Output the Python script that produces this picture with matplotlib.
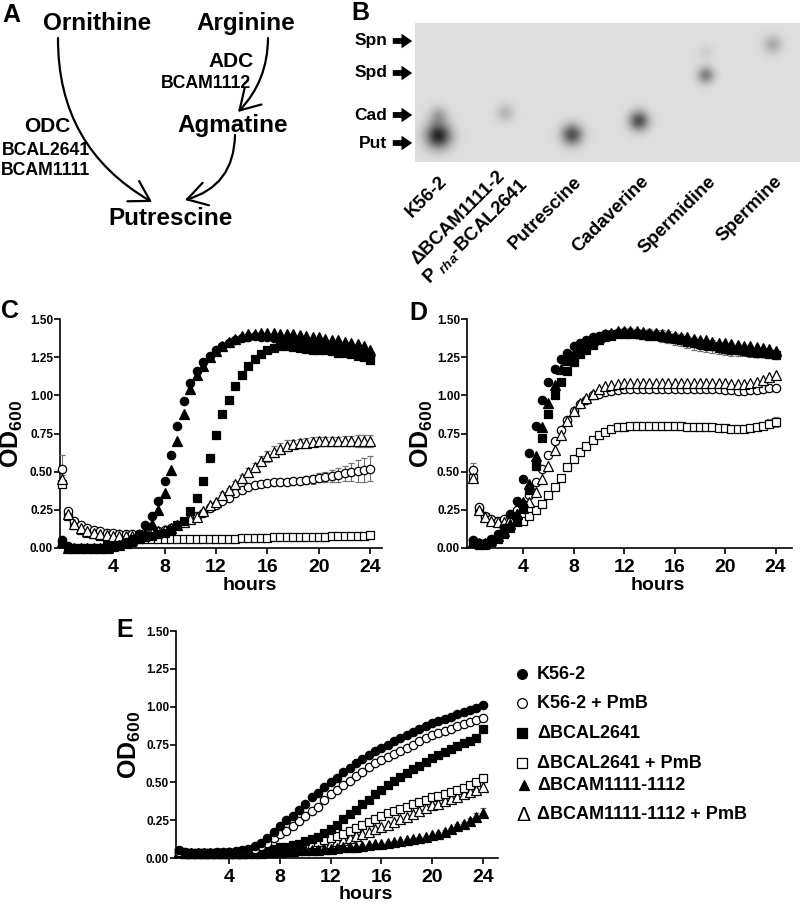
import numpy as np
import matplotlib
matplotlib.use('Agg')
import matplotlib.pyplot as plt
from matplotlib.patches import FancyArrowPatch

plt.rcParams['font.family'] = ['Liberation Sans', 'DejaVu Sans']
plt.rcParams['font.weight'] = 'bold'
plt.rcParams['mathtext.fontset'] = 'custom'
plt.rcParams['mathtext.rm'] = 'Liberation Sans:bold'
plt.rcParams['mathtext.it'] = 'Liberation Sans:italic:bold'
plt.rcParams['mathtext.bf'] = 'Liberation Sans:bold'

# ---------------- data ----------------
hours = np.arange(0, 24.5, 0.5)

# Panel C
C_fc = [0.05, 0.01, 0.00, 0.00, 0.00, 0.00, 0.00, 0.00, 0.01, 0.02,
        0.04, 0.06, 0.09, 0.15, 0.21, 0.31, 0.44, 0.61, 0.80, 0.96,
        1.08, 1.16, 1.22, 1.26, 1.30, 1.32, 1.34, 1.36, 1.375, 1.385,
        1.39, 1.385, 1.38, 1.375, 1.37, 1.36, 1.355, 1.35, 1.34, 1.335,
        1.33, 1.32, 1.31, 1.305, 1.30, 1.29, 1.285, 1.275, 1.26]
C_ft = [0.04, 0.00, 0.00, 0.00, 0.00, 0.00, 0.00, 0.00, 0.01, 0.02,
        0.03, 0.05, 0.07, 0.10, 0.16, 0.25, 0.36, 0.51, 0.70, 0.88,
        1.04, 1.13, 1.19, 1.25, 1.29, 1.32, 1.35, 1.37, 1.39, 1.40,
        1.405, 1.41, 1.41, 1.41, 1.405, 1.40, 1.40, 1.395, 1.39, 1.385,
        1.38, 1.37, 1.365, 1.36, 1.35, 1.345, 1.335, 1.325, 1.30]
C_fs = [0.03, 0.00, 0.00, 0.00, 0.00, 0.00, 0.00, 0.01, 0.01, 0.02,
        0.03, 0.04, 0.06, 0.07, 0.08, 0.09, 0.10, 0.12, 0.15, 0.18,
        0.24, 0.33, 0.44, 0.59, 0.74, 0.88, 0.97, 1.06, 1.13, 1.19,
        1.24, 1.27, 1.30, 1.31, 1.32, 1.32, 1.315, 1.31, 1.305, 1.30,
        1.30, 1.295, 1.29, 1.28, 1.275, 1.27, 1.26, 1.25, 1.23]
C_oc = [0.52, 0.24, 0.18, 0.15, 0.13, 0.12, 0.11, 0.10, 0.095, 0.09,
        0.09, 0.09, 0.09, 0.095, 0.10, 0.11, 0.12, 0.13, 0.15, 0.17,
        0.19, 0.21, 0.23, 0.26, 0.28, 0.31, 0.33, 0.36, 0.38, 0.40,
        0.41, 0.42, 0.425, 0.43, 0.43, 0.435, 0.44, 0.44, 0.445, 0.45,
        0.46, 0.465, 0.47, 0.48, 0.49, 0.50, 0.505, 0.51, 0.52]
C_oc_sd = [0.09, 0.01, 0.01, 0.01, 0.01, 0.01, 0.01, 0.01, 0.01, 0.01,
           0.01, 0.01, 0.01, 0.01, 0.01, 0.01, 0.01, 0.01, 0.01, 0.01,
           0.01, 0.01, 0.01, 0.01, 0.01, 0.01, 0.01, 0.01, 0.01, 0.01,
           0.01, 0.01, 0.01, 0.01, 0.015, 0.015, 0.02, 0.02, 0.025, 0.03,
           0.03, 0.035, 0.04, 0.045, 0.05, 0.06, 0.07, 0.08, 0.08]
C_ot = [0.45, 0.22, 0.16, 0.13, 0.11, 0.10, 0.09, 0.085, 0.08, 0.08,
        0.08, 0.08, 0.085, 0.09, 0.10, 0.11, 0.12, 0.13, 0.15, 0.17,
        0.19, 0.20, 0.24, 0.28, 0.30, 0.35, 0.38, 0.42, 0.46, 0.50,
        0.53, 0.57, 0.60, 0.63, 0.65, 0.67, 0.68, 0.685, 0.69, 0.695,
        0.70, 0.70, 0.70, 0.70, 0.70, 0.70, 0.70, 0.70, 0.70]
C_ot_sd = [0.03, 0.01, 0.01, 0.01, 0.01, 0.01, 0.01, 0.01, 0.01, 0.01,
           0.01, 0.01, 0.01, 0.01, 0.01, 0.01, 0.01, 0.01, 0.01, 0.01,
           0.01, 0.01, 0.01, 0.01, 0.01, 0.015, 0.015, 0.02, 0.02, 0.025,
           0.03, 0.03, 0.035, 0.035, 0.035, 0.035, 0.03, 0.03, 0.03, 0.03,
           0.03, 0.03, 0.03, 0.03, 0.035, 0.035, 0.04, 0.04, 0.04]
C_os = [0.42, 0.21, 0.15, 0.12, 0.10, 0.09, 0.08, 0.075, 0.07, 0.07,
        0.065, 0.065, 0.06, 0.06, 0.06, 0.06, 0.06, 0.06, 0.06, 0.06,
        0.06, 0.06, 0.06, 0.06, 0.06, 0.06, 0.06, 0.06, 0.065, 0.065,
        0.065, 0.065, 0.065, 0.07, 0.07, 0.07, 0.07, 0.07, 0.075, 0.075,
        0.075, 0.075, 0.08, 0.08, 0.08, 0.08, 0.08, 0.08, 0.085]

# Panel D
D_fc = [0.05, 0.03, 0.03, 0.06, 0.09, 0.13, 0.22, 0.31, 0.45, 0.62,
        0.80, 0.97, 1.09, 1.17, 1.24, 1.28, 1.32, 1.34, 1.36, 1.38,
        1.39, 1.40, 1.405, 1.41, 1.41, 1.41, 1.405, 1.40, 1.40, 1.395,
        1.39, 1.38, 1.37, 1.36, 1.35, 1.34, 1.33, 1.325, 1.32, 1.31,
        1.305, 1.30, 1.295, 1.29, 1.285, 1.28, 1.28, 1.275, 1.27]
D_fc_sd = [0.01, 0.01, 0.01, 0.01, 0.01, 0.01, 0.01, 0.01, 0.01, 0.01,
           0.01, 0.01, 0.01, 0.01, 0.01, 0.01, 0.01, 0.01, 0.01, 0.01,
           0.015, 0.02, 0.02, 0.025, 0.03, 0.03, 0.03, 0.03, 0.035, 0.035,
           0.04, 0.04, 0.04, 0.04, 0.04, 0.04, 0.04, 0.04, 0.04, 0.04,
           0.04, 0.04, 0.04, 0.035, 0.035, 0.03, 0.03, 0.03, 0.03]
D_ft = [0.04, 0.03, 0.03, 0.05, 0.08, 0.11, 0.16, 0.22, 0.30, 0.42,
        0.60, 0.79, 0.95, 1.07, 1.17, 1.23, 1.28, 1.31, 1.34, 1.36,
        1.38, 1.40, 1.41, 1.42, 1.42, 1.42, 1.42, 1.415, 1.41, 1.41,
        1.405, 1.40, 1.39, 1.385, 1.38, 1.37, 1.365, 1.36, 1.35, 1.345,
        1.34, 1.335, 1.33, 1.325, 1.32, 1.315, 1.31, 1.305, 1.29]
D_fs = [0.04, 0.02, 0.02, 0.04, 0.06, 0.09, 0.13, 0.18, 0.26, 0.38,
        0.54, 0.72, 0.88, 1.00, 1.09, 1.16, 1.22, 1.27, 1.30, 1.33,
        1.36, 1.38, 1.39, 1.40, 1.40, 1.40, 1.40, 1.395, 1.39, 1.39,
        1.38, 1.375, 1.37, 1.36, 1.35, 1.34, 1.335, 1.33, 1.32, 1.31,
        1.305, 1.30, 1.295, 1.29, 1.285, 1.28, 1.275, 1.27, 1.265]
D_oc = [0.51, 0.27, 0.21, 0.19, 0.18, 0.19, 0.21, 0.25, 0.29, 0.35,
        0.43, 0.52, 0.61, 0.70, 0.77, 0.84, 0.90, 0.94, 0.97, 1.00,
        1.01, 1.02, 1.03, 1.035, 1.04, 1.04, 1.04, 1.04, 1.04, 1.04,
        1.04, 1.04, 1.04, 1.04, 1.04, 1.04, 1.04, 1.04, 1.04, 1.04,
        1.035, 1.035, 1.03, 1.03, 1.035, 1.035, 1.04, 1.045, 1.05]
D_oc_sd = [0.05, 0.01, 0.01, 0.01, 0.01, 0.01, 0.01, 0.01, 0.01, 0.01,
           0.01, 0.01, 0.01, 0.01, 0.01, 0.01, 0.01, 0.01, 0.01, 0.01,
           0.01, 0.01, 0.01, 0.01, 0.01, 0.01, 0.01, 0.01, 0.01, 0.01,
           0.01, 0.01, 0.01, 0.01, 0.01, 0.01, 0.01, 0.01, 0.01, 0.01,
           0.01, 0.01, 0.01, 0.01, 0.01, 0.01, 0.01, 0.015, 0.015]
D_ot = [0.46, 0.25, 0.20, 0.18, 0.17, 0.17, 0.19, 0.22, 0.26, 0.30,
        0.37, 0.45, 0.54, 0.64, 0.74, 0.83, 0.90, 0.95, 0.98, 1.01,
        1.04, 1.06, 1.07, 1.075, 1.08, 1.08, 1.08, 1.08, 1.08, 1.08,
        1.08, 1.08, 1.08, 1.08, 1.08, 1.08, 1.08, 1.08, 1.08, 1.08,
        1.08, 1.075, 1.075, 1.075, 1.08, 1.09, 1.10, 1.12, 1.13]
D_os = [0.46, 0.25, 0.20, 0.18, 0.17, 0.16, 0.15, 0.17, 0.18, 0.21,
        0.25, 0.29, 0.35, 0.40, 0.46, 0.53, 0.58, 0.63, 0.67, 0.71,
        0.74, 0.76, 0.78, 0.79, 0.795, 0.80, 0.80, 0.80, 0.80, 0.80,
        0.80, 0.80, 0.80, 0.80, 0.795, 0.795, 0.79, 0.79, 0.79, 0.785,
        0.785, 0.78, 0.78, 0.78, 0.785, 0.79, 0.80, 0.815, 0.825]
D_os_sd = [0.02, 0.01, 0.01, 0.01, 0.01, 0.01, 0.01, 0.01, 0.01, 0.01,
           0.01, 0.01, 0.01, 0.01, 0.01, 0.01, 0.01, 0.01, 0.01, 0.01,
           0.01, 0.01, 0.01, 0.01, 0.01, 0.01, 0.01, 0.01, 0.01, 0.01,
           0.01, 0.01, 0.01, 0.01, 0.01, 0.01, 0.01, 0.01, 0.01, 0.01,
           0.01, 0.01, 0.01, 0.01, 0.01, 0.015, 0.02, 0.03, 0.03]

# Panel E
E_fc = [0.05, 0.04, 0.035, 0.035, 0.035, 0.035, 0.04, 0.04, 0.04, 0.045,
        0.05, 0.06, 0.08, 0.10, 0.13, 0.17, 0.21, 0.25, 0.28, 0.32,
        0.36, 0.40, 0.43, 0.47, 0.50, 0.53, 0.565, 0.595, 0.625, 0.655,
        0.68, 0.705, 0.73, 0.75, 0.77, 0.79, 0.81, 0.83, 0.85, 0.87,
        0.89, 0.905, 0.92, 0.935, 0.95, 0.965, 0.98, 0.99, 1.01]
E_oc = [0.04, 0.035, 0.03, 0.03, 0.03, 0.03, 0.035, 0.035, 0.04, 0.04,
        0.045, 0.05, 0.06, 0.08, 0.10, 0.13, 0.16, 0.18, 0.21, 0.245,
        0.28, 0.31, 0.34, 0.38, 0.42, 0.45, 0.48, 0.51, 0.54, 0.57,
        0.60, 0.625, 0.65, 0.67, 0.69, 0.71, 0.73, 0.75, 0.77, 0.79,
        0.81, 0.825, 0.84, 0.855, 0.87, 0.885, 0.90, 0.91, 0.925]
E_fs = [0.04, 0.035, 0.03, 0.03, 0.03, 0.03, 0.03, 0.03, 0.035, 0.035,
        0.04, 0.04, 0.045, 0.05, 0.055, 0.06, 0.07, 0.075, 0.085, 0.095,
        0.11, 0.125, 0.14, 0.165, 0.19, 0.22, 0.255, 0.29, 0.32, 0.355,
        0.385, 0.42, 0.45, 0.48, 0.51, 0.535, 0.56, 0.585, 0.61, 0.635,
        0.66, 0.68, 0.70, 0.72, 0.74, 0.76, 0.775, 0.79, 0.85]
E_os = [0.04, 0.035, 0.03, 0.03, 0.03, 0.03, 0.03, 0.03, 0.035, 0.035,
        0.035, 0.04, 0.04, 0.045, 0.05, 0.055, 0.06, 0.065, 0.07, 0.075,
        0.085, 0.095, 0.105, 0.12, 0.13, 0.145, 0.16, 0.18, 0.20, 0.22,
        0.24, 0.26, 0.28, 0.295, 0.31, 0.325, 0.34, 0.355, 0.37, 0.385,
        0.40, 0.41, 0.425, 0.435, 0.45, 0.465, 0.48, 0.50, 0.53]
E_ot = [0.04, 0.035, 0.03, 0.03, 0.03, 0.03, 0.03, 0.03, 0.035, 0.035,
        0.035, 0.04, 0.04, 0.045, 0.05, 0.05, 0.055, 0.06, 0.065, 0.07,
        0.075, 0.08, 0.09, 0.095, 0.10, 0.11, 0.12, 0.13, 0.145, 0.16,
        0.175, 0.19, 0.205, 0.22, 0.24, 0.255, 0.27, 0.29, 0.31, 0.33,
        0.35, 0.36, 0.375, 0.39, 0.405, 0.42, 0.435, 0.45, 0.47]
E_ft = [0.04, 0.035, 0.03, 0.03, 0.03, 0.03, 0.03, 0.03, 0.03, 0.03,
        0.03, 0.035, 0.035, 0.035, 0.04, 0.04, 0.04, 0.045, 0.045, 0.05,
        0.05, 0.055, 0.055, 0.06, 0.06, 0.065, 0.07, 0.07, 0.075, 0.08,
        0.085, 0.09, 0.095, 0.10, 0.105, 0.11, 0.12, 0.125, 0.135, 0.14,
        0.15, 0.16, 0.175, 0.19, 0.21, 0.225, 0.245, 0.27, 0.30]
E_ft_sd = [0.005, 0.005, 0.005, 0.005, 0.005, 0.005, 0.005, 0.005, 0.005, 0.005,
           0.005, 0.005, 0.005, 0.005, 0.005, 0.005, 0.005, 0.005, 0.005, 0.005,
           0.005, 0.005, 0.005, 0.005, 0.005, 0.005, 0.005, 0.005, 0.005, 0.005,
           0.005, 0.005, 0.005, 0.005, 0.005, 0.005, 0.005, 0.005, 0.005, 0.005,
           0.005, 0.01, 0.01, 0.01, 0.015, 0.015, 0.02, 0.025, 0.03]

legend_labels = ['K56-2', 'K56-2 + PmB', '\u0394BCAL2641', '\u0394BCAL2641 + PmB',
                 '\u0394BCAM1111-1112', '\u0394BCAM1111-1112 + PmB']
y_ticks = [0.00, 0.25, 0.50, 0.75, 1.00, 1.25, 1.50]
x_ticks = [4, 8, 12, 16, 20, 24]

# Panel B (TLC)
gel_lanes = ['K56-2', '\u0394BCAM1111-2', 'Putrescine', 'Cadaverine', 'Spermidine', 'Spermine']
gel_lane2_line2 = r'P ${}_{\mathit{rha}}$-BCAL2641'
spot_lane = [0, 0, 1, 2, 3, 4, 4, 5]
spot_pos = [26, 46, 49, 27, 41, 87, 110, 118]
spot_strength = [0.72, 0.22, 0.15, 0.55, 0.55, 0.36, 0.06, 0.2]
spot_sigma = [9.0, 6.5, 6.5, 7.5, 7.0, 6.0, 6.0, 6.5]
std_names = ['Spn', 'Spd', 'Cad', 'Put']
std_pos = [121, 89, 47, 19]

# ---------------- figure ----------------
W, H = 800, 905
fig = plt.figure(figsize=(8, 9.05), dpi=100)


def px_axes(l, t, r, b):
    return fig.add_axes([l / W, 1 - b / H, (r - l) / W, (b - t) / H])


styles = {
    'oc': dict(marker='o', mfc='white', ms=6.0),
    'os': dict(marker='s', mfc='white', ms=5.5),
    'ot': dict(marker='^', mfc='white', ms=6.5),
    'fs': dict(marker='s', mfc='black', ms=5.5),
    'fc': dict(marker='o', mfc='black', ms=6.0),
    'ft': dict(marker='^', mfc='black', ms=6.5),
}


def growth_panel(ax, series, xlim):
    for key, y, sd in series:
        st = styles[key]
        ax.errorbar(hours, y, yerr=sd, fmt=st['marker'], ms=st['ms'],
                    mfc=st['mfc'], mec='black', mew=0.9, ecolor='0.45',
                    elinewidth=0.8, capsize=2.5, capthick=0.8, clip_on=False,
                    zorder=3)
    ax.set_xlim(*xlim)
    ax.set_ylim(0, 1.5)
    ax.set_xticks(x_ticks)
    ax.set_yticks(y_ticks)
    ax.set_yticklabels(['%.2f' % v for v in y_ticks])
    for s in ['top', 'right']:
        ax.spines[s].set_visible(False)
    for s in ['left', 'bottom']:
        ax.spines[s].set_linewidth(1.2)
    ax.tick_params(axis='x', direction='out', length=4, width=1.2, labelsize=14, pad=4)
    ax.tick_params(axis='y', direction='out', length=4, width=1.2, labelsize=8.5, pad=1)
    for lab in ax.get_xticklabels() + ax.get_yticklabels():
        lab.set_fontweight('bold')
    ax.set_xlabel('hours', fontsize=14, fontweight='bold')
    ax.set_ylabel(r'OD$_{\mathrm{600}}$', fontsize=18, fontweight='bold')
    ax.yaxis.label.set_va('center')


axC = px_axes(60, 319, 382, 548)
growth_panel(axC, [('os', C_os, None), ('oc', C_oc, C_oc_sd), ('ot', C_ot, C_ot_sd),
                   ('fs', C_fs, None), ('fc', C_fc, None), ('ft', C_ft, None)],
             (-0.12, 24.9))
axC.yaxis.set_label_coords(-0.149, 0.5)

axD = px_axes(467, 319, 792, 548)
growth_panel(axD, [('os', D_os, D_os_sd), ('oc', D_oc, D_oc_sd), ('ot', D_ot, None),
                   ('fc', D_fc, D_fc_sd), ('fs', D_fs, None), ('ft', D_ft, None)],
             (-0.44, 25.3))
axD.yaxis.set_label_coords(-0.138, 0.5)

axE = px_axes(176, 631, 498, 858)
growth_panel(axE, [('ot', E_ot, None), ('os', E_os, None), ('ft', E_ft, E_ft_sd),
                   ('fs', E_fs, None), ('oc', E_oc, None), ('fc', E_fc, None)],
             (-0.2, 25.2))
axE.yaxis.set_label_coords(-0.143, 0.5)
for ax in (axC, axD, axE):
    ax.xaxis.set_label_coords(0.588, -0.125)

# TLC plate (panel B)
gel_l, gel_t, gel_r, gel_b = 415, 23, 800, 162
axB = px_axes(gel_l, gel_t, gel_r, gel_b)
lane_px = 67.0
x0 = (gel_l - 438) / lane_px
x1 = (gel_r - 438) / lane_px
nx, ny = gel_r - gel_l, gel_b - gel_t
gx = np.linspace(x0, x1, nx)
gy = np.linspace(ny, 0, ny)
GX, GY = np.meshgrid(gx, gy)
img = np.full_like(GX, 0.87)
for ln, pos, s, sg in zip(spot_lane, spot_pos, spot_strength, spot_sigma):
    img -= s * np.exp(-(((GX - ln) * lane_px) ** 2 + (GY - pos) ** 2) / (2 * sg ** 2))
axB.imshow(img, cmap='gray', vmin=0, vmax=1, extent=(x0, x1, 0, ny),
           aspect='auto', interpolation='bilinear')
axB.set_xlim(x0, x1)
axB.set_ylim(0, ny)
axB.axis('off')

# ---------------- overlay (annotations) ----------------
ov = fig.add_axes([0, 0, 1, 1])
ov.set_xlim(0, W)
ov.set_ylim(H, 0)
ov.axis('off')
ov.patch.set_alpha(0)

letter_kw = dict(fontsize=18, fontweight='bold', ha='center', va='baseline')
ov.text(11, 22, 'A', **letter_kw)
ov.text(360, 20, 'B', **letter_kw)
ov.text(10, 318, 'C', **letter_kw)
ov.text(418, 320, 'D', **letter_kw)
ov.text(125, 637, 'E', **letter_kw)

big = dict(fontsize=17.5, fontweight='bold', ha='center', va='baseline')
mid = dict(fontsize=15, fontweight='bold', ha='center', va='baseline')
small = dict(fontsize=12.7, fontweight='bold', ha='center', va='baseline')
ov.text(97, 30, 'Ornithine', **big)
ov.text(246, 30, 'Arginine', **big)
ov.text(233, 132, 'Agmatine', **big)
ov.text(171, 225, 'Putrescine', **big)
ov.text(231, 67, 'ADC', **mid)
ov.text(206, 88, 'BCAM1112', **small)
ov.text(47, 132, 'ODC', **mid)
ov.text(46, 155, 'BCAL2641', **small)
ov.text(46, 175, 'BCAM1111', **small)

arrow_kw = dict(arrowstyle='->,head_length=0.5,head_width=0.3', mutation_scale=28,
                lw=1.6, color='black', shrinkA=0, shrinkB=0)
ov.add_patch(FancyArrowPatch((58, 38), (152, 202), connectionstyle='arc3,rad=0.29', **arrow_kw))
ov.add_patch(FancyArrowPatch((268, 38), (238, 112), connectionstyle='arc3,rad=-0.2', **arrow_kw))
ov.add_patch(FancyArrowPatch((235, 135), (185, 200), connectionstyle='arc3,rad=-0.37', **arrow_kw))

# TLC standards markers
for name, pos in zip(std_names, std_pos):
    yy = gel_b - pos
    ov.text(387, yy + 4.5, name, fontsize=12.5, fontweight='bold', ha='right', va='baseline')
    ov.add_patch(FancyArrowPatch((390, yy), (415, yy),
                                 arrowstyle='simple,head_length=0.55,head_width=0.75,tail_width=0.3',
                                 mutation_scale=14, color='black', lw=0))

# TLC lane labels
lane_kw = dict(fontsize=13.5, fontweight='bold', ha='right', va='top',
               rotation=45, rotation_mode='anchor')
for i, lab in enumerate(gel_lanes):
    lx = 438 + lane_px * i
    if i == 1:
        ov.text(lx - 9, 168, lab, **lane_kw)
        ov.text(lx + 13, 175, gel_lane2_line2, **lane_kw)
    else:
        ov.text(lx + 1, 173, lab, **lane_kw)

# Legend for panel E
leg_y = [674, 703, 733, 763, 785, 814]
leg_keys = ['fc', 'oc', 'fs', 'os', 'ft', None]
for key, yy, lab in zip(leg_keys, leg_y, legend_labels):
    if key is None:
        ov.text(523, yy + 1, '\u0394', fontsize=15, fontweight='normal', ha='center', va='center')
    else:
        st = styles[key]
        ov.plot([522 if key != 'ft' else 524], [yy], marker=st['marker'], ms=st['ms'] + 1,
                mfc=st['mfc'], mec='black', mew=0.9, ls='none')
    ov.text(537, yy, lab, fontsize=13, fontweight='bold', ha='left', va='center')

fig.savefig('out.png', dpi=100)
